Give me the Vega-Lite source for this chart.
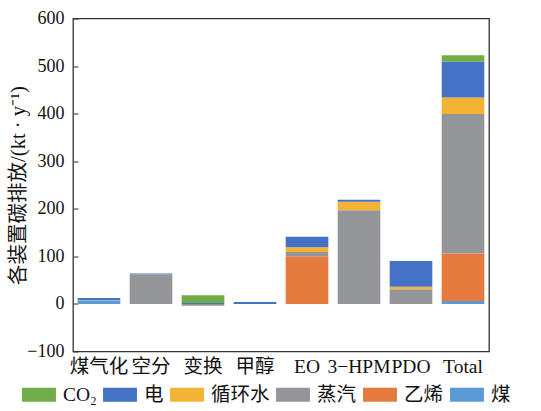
{
  "$schema": "https://vega.github.io/schema/vega-lite/v6.json",
  "autosize": {"type": "none"},
  "padding": {"left": 73, "top": 18.5, "right": 52, "bottom": 59.5},
  "width": 416,
  "height": 333,
  "background": "white",
  "config": {
    "font": "Liberation Serif, Noto Sans CJK SC",
    "view": {"stroke": "#333", "strokeWidth": 1.3},
    "axis": {"labelColor": "#111", "titleColor": "#111", "labelFont": "Liberation Serif, Noto Sans CJK SC", "titleFont": "Liberation Serif, Noto Sans CJK SC", "domainColor": "#333"},
    "legend": {"labelFont": "Liberation Serif, Noto Sans CJK SC", "labelColor": "#111"}
  },
  "data": {
    "values": [
      {"unit": "煤气化", "type": "煤", "value": 7},
      {"unit": "煤气化", "type": "循环水", "value": 0.6},
      {"unit": "煤气化", "type": "电", "value": 5},
      {"unit": "空分", "type": "蒸汽", "value": 61},
      {"unit": "空分", "type": "循环水", "value": 1},
      {"unit": "空分", "type": "电", "value": 2},
      {"unit": "变换", "type": "蒸汽", "value": -4},
      {"unit": "变换", "type": "电", "value": 2},
      {"unit": "变换", "type": "CO₂", "value": 16},
      {"unit": "甲醇", "type": "电", "value": 4},
      {"unit": "EO", "type": "乙烯", "value": 100},
      {"unit": "EO", "type": "蒸汽", "value": 9},
      {"unit": "EO", "type": "循环水", "value": 10},
      {"unit": "EO", "type": "电", "value": 22},
      {"unit": "3−HPM", "type": "蒸汽", "value": 197},
      {"unit": "3−HPM", "type": "循环水", "value": 18},
      {"unit": "3−HPM", "type": "电", "value": 4},
      {"unit": "PDO", "type": "蒸汽", "value": 31},
      {"unit": "PDO", "type": "循环水", "value": 5},
      {"unit": "PDO", "type": "电", "value": 54},
      {"unit": "Total", "type": "煤", "value": 6},
      {"unit": "Total", "type": "乙烯", "value": 100},
      {"unit": "Total", "type": "蒸汽", "value": 293},
      {"unit": "Total", "type": "循环水", "value": 35},
      {"unit": "Total", "type": "电", "value": 75},
      {"unit": "Total", "type": "CO₂", "value": 14}
    ]
  },
  "transform": [
    {"calculate": "indexof(['煤','乙烯','蒸汽','循环水','电','CO₂'], datum.type)", "as": "stackOrder"}
  ],
  "mark": {"type": "bar"},
  "encoding": {
    "x": {
      "field": "unit",
      "type": "nominal",
      "sort": ["煤气化", "空分", "变换", "甲醇", "EO", "3−HPM", "PDO", "Total"],
      "scale": {"paddingInner": 0.18, "paddingOuter": 0.09},
      "axis": {"title": null, "labelAngle": 0, "ticks": false, "domain": false, "labelFontSize": 19.5, "labelPadding": 6}
    },
    "y": {
      "field": "value",
      "type": "quantitative",
      "stack": "zero",
      "scale": {"domain": [-100, 600], "nice": false, "zero": false},
      "axis": {"title": "各装置碳排放/(kt · y⁻¹)", "values": [-100, 0, 100, 200, 300, 400, 500, 600], "grid": false, "domain": false, "tickSize": -5, "tickColor": "#333", "labelFontSize": 18, "labelPadding": 14, "titleFontSize": 20.5, "titleFontWeight": "normal", "titlePadding": -2}
    },
    "order": {"field": "stackOrder", "type": "quantitative", "sort": "ascending"},
    "color": {
      "field": "type",
      "type": "nominal",
      "sort": ["CO₂", "电", "循环水", "蒸汽", "乙烯", "煤"],
      "scale": {"domain": ["CO₂", "电", "循环水", "蒸汽", "乙烯", "煤"], "range": ["#70AD47", "#4472C4", "#F5B335", "#939598", "#E57A3F", "#5B9BD5"]},
      "legend": {"title": null, "orient": "none", "direction": "horizontal", "legendX": -51, "legendY": 359, "symbolType": "M-1,-0.42H1V0.42H-1Z", "symbolSize": 1150, "symbolStrokeWidth": 0, "labelFontSize": 19.5, "labelOffset": 7, "columnPadding": 6}
    }
  }
}
